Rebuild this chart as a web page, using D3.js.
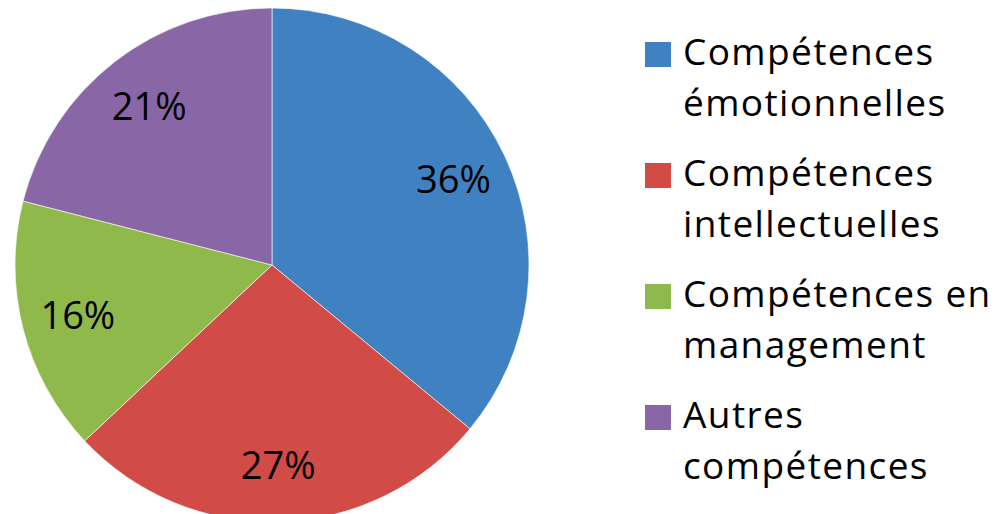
<!DOCTYPE html>
<html>
<head>
<meta charset="utf-8">
<script src="https://cdn.jsdelivr.net/npm/d3@7"></script>
<style>
  html, body { margin: 0; padding: 0; background: #fff; }
  svg { display: block; }
  text { font-family: "Open Sans", "Noto Sans", sans-serif; fill: #000; }
</style>
</head>
<body>
<svg id="chart" width="995" height="514"></svg>
<script>
// Répartition des compétences
const categories = [
  ["Compétences", "émotionnelles"],
  ["Compétences", "intellectuelles"],
  ["Compétences en", "management"],
  ["Autres", "compétences"]
];
const values = [36, 27, 16, 21];
const colors = ["#4082c1", "#d14b47", "#8fba4b", "#8966a5"];

const svg = d3.select("#chart");
const cx = 272, cy = 265, R = 257;

const data = values.map((v, i) => ({ value: v, label: categories[i], color: colors[i] }));

const pie = d3.pie().value(d => d.value).sort(null);
const arc = d3.arc().innerRadius(0).outerRadius(R);
const labelArc = d3.arc().innerRadius(R * 0.78).outerRadius(R * 0.78);

const g = svg.append("g").attr("transform", `translate(${cx},${cy})`);
const arcs = pie(data);

g.selectAll("path.slice")
  .data(arcs)
  .join("path")
  .attr("class", "slice")
  .attr("d", arc)
  .attr("fill", d => d.data.color)
  .attr("stroke", "rgba(255,255,255,0.6)")
  .attr("stroke-width", 1);

g.selectAll("text.pct")
  .data(arcs)
  .join("text")
  .attr("class", "pct")
  .attr("transform", d => `translate(${labelArc.centroid(d)})`)
  .attr("text-anchor", "middle")
  .attr("dy", "0.36em")
  .style("font-size", "38px")
  .text(d => d.data.value + "%");

// Légende
const legend = svg.append("g").attr("transform", "translate(645,65)");
const item = legend.selectAll("g.item")
  .data(data)
  .join("g")
  .attr("class", "item")
  .attr("transform", (d, i) => `translate(0,${i * 121})`);

item.append("rect")
  .attr("x", 0).attr("y", -23)
  .attr("width", 26).attr("height", 25)
  .attr("fill", d => d.color);

item.append("text")
  .attr("x", 38)
  .style("font-size", "37px")
  .style("letter-spacing", "1.4px")
  .selectAll("tspan")
  .data(d => d.label)
  .join("tspan")
  .attr("x", 38)
  .attr("y", (d, i) => i * 51)
  .text(d => d);
</script>
</body>
</html>
